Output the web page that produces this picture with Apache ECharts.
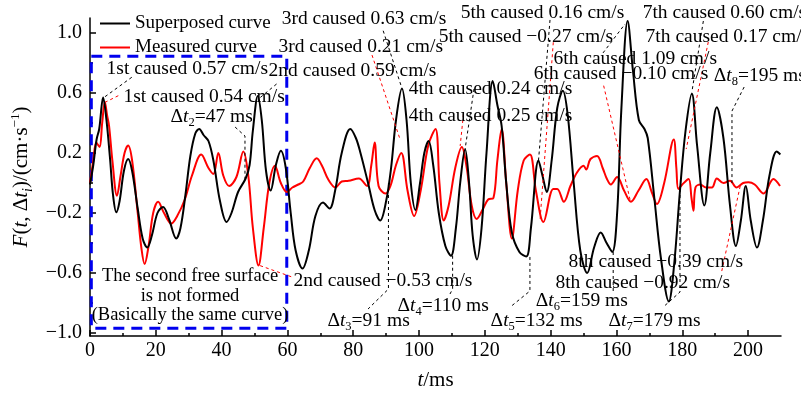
<!DOCTYPE html>
<html><head><meta charset="utf-8">
<script src="https://cdn.jsdelivr.net/npm/echarts@6/dist/echarts.min.js"></script>
<style>html,body{margin:0;padding:0;background:#fff}#c{width:801px;height:396px}</style>
</head><body><div id="c"></div>
<script>
// ---- data (t in ms, value in cm/s) ----
const superposedCurve = [
[0,-0.01],[1.0,0.12],[2.0,0.29],[2.8,0.36],[4.0,0.57],[5.0,0.42],[6.1,0.16],[7.0,-0.08],[8.0,-0.195],[9.0,-0.12],
[10.3,0.08],[11.6,0.16],[12.8,0.08],[14.5,-0.17],[16.0,-0.37],[17.4,-0.43],[18.8,-0.35],[20.5,-0.2],[22.2,-0.16],[24.0,-0.24],
[26.2,-0.37],[27.5,-0.3],[29.0,-0.08],[30.5,0.18],[32.0,0.33],[33.2,0.36],[34.5,0.32],[36.0,0.28],[37.5,0.15],[39.5,-0.12],
[41.5,-0.26],[43.0,-0.2],[45.0,-0.06],[47.3,0.03],[48.5,0.12],[49.5,0.35],[51.0,0.58],[52.2,0.42],[53.5,0.08],[54.9,-0.05],
[56.5,0.12],[58.0,0.215],[59.5,0.1],[61.0,-0.2],[62.5,-0.45],[64.6,-0.57],[66.5,-0.45],[68.5,-0.22],[70.8,-0.13],[72.8,-0.17],
[74.5,-0.05],[76.5,0.2],[79.1,0.36],[80.8,0.3],[82.2,0.2],[84.5,0.0],[86.5,-0.18],[88.2,-0.25],[90.0,-0.12],[91.5,0.1],
[93.0,0.42],[94.8,0.63],[96.2,0.42],[97.5,0.0],[98.9,-0.18],[100.3,0.0],[101.6,0.2],[102.9,0.28],[104.3,0.12],[106.0,-0.2],
[108.0,-0.42],[109.7,-0.485],[111.2,-0.3],[112.5,0.0],[114.0,0.225],[115.2,0.0],[116.3,-0.35],[117.6,-0.51],[119.0,-0.3],[120.5,0.2],
[122.4,0.68],[123.8,0.52],[125.1,0.38],[126.5,0.0],[128.2,-0.33],[130.5,-0.46],[132.6,-0.49],[134.0,-0.3],[136.3,0.15],[137.5,0.05],
[138.8,-0.06],[140.3,0.15],[142.0,0.5],[143.7,0.615],[145.2,0.45],[147.0,0.0],[149.0,-0.45],[151.1,-0.6],[153.2,-0.43],[155.2,-0.33],
[157.0,-0.4],[158.7,-0.46],[160.2,-0.2],[161.5,0.5],[163.4,1.08],[165.0,0.75],[166.8,0.42],[168.5,0.36],[169.5,0.3],[171.5,-0.1],
[173.5,-0.5],[175.9,-0.79],[177.5,-0.55],[179.3,-0.05],[181.0,0.35],[182.9,0.595],[184.5,0.25],[186.7,-0.15],[188.5,0.2],[190.5,0.505],
[192.5,0.3],[194.5,-0.15],[196.3,-0.42],[197.8,-0.25],[199.3,-0.02],[200.8,-0.25],[202.7,-0.43],[204.5,-0.25],[206.5,0.05],[208.7,0.21],[209.8,0.19]
];
const measuredCurve = [
[0,0.0],[1.0,0.15],[1.9,0.27],[2.9,0.24],[3.7,0.4],[4.5,0.54],[5.2,0.45],[5.8,0.38],[6.8,0.15],[8.2,-0.085],
[9.3,0.05],[10.5,0.2],[11.6,0.25],[12.8,0.15],[14.5,-0.2],[15.6,-0.43],[16.6,-0.54],[17.8,-0.42],[19.2,-0.2],[20.7,-0.125],
[22.5,-0.2],[24.7,-0.27],[26.5,-0.22],[28.8,-0.11],[31.0,0.05],[33.8,0.19],[36.0,0.1],[37.5,0.06],[39.0,0.2],[40.5,0.05],
[42.3,-0.02],[44.5,0.04],[46.6,0.21],[48.1,0.05],[49.5,-0.3],[51.2,-0.55],[52.8,-0.3],[54.5,0.0],[56.2,0.115],[58.0,0.0],
[59.8,-0.06],[61.5,-0.03],[63.3,-0.01],[64.8,0.01],[66.8,0.1],[68.9,0.165],[70.5,0.115],[72.5,0.02],[74.6,-0.03],[76.5,0.01],
[78.6,0.015],[81.7,0.03],[84.2,-0.02],[85.5,0.12],[86.5,0.27],[87.7,-0.02],[89.8,-0.07],[91.3,-0.02],[93.0,0.12],[94.6,0.2],
[96.5,-0.05],[98.5,-0.22],[100.5,-0.05],[102.8,0.25],[105.0,0.36],[106.2,0.0],[107.5,-0.25],[109.0,-0.15],[111.0,0.1],[113.0,0.24],
[114.5,0.1],[116.0,-0.15],[117.5,-0.24],[119.5,-0.17],[121.0,-0.11],[122.6,-0.1],[123.8,0.15],[125.1,0.36],[126.5,0.0],[128.2,-0.37],
[130.0,-0.05],[131.8,0.15],[133.7,0.19],[135.5,-0.05],[137.8,-0.26],[140.8,-0.04],[142.0,-0.04],[144.0,-0.125],[146.0,-0.02],[148.0,0.07],
[150.0,0.115],[150.8,0.09],[152.1,0.16],[154.1,0.18],[155.8,0.1],[157.1,0.027],[158.3,-0.01],[160.2,0.04],[162.3,-0.05],[164.4,-0.125],
[166.7,-0.05],[169.1,0.027],[170.7,-0.06],[172.3,-0.14],[174.5,0.0],[177.4,0.29],[178.2,0.1],[178.8,-0.04],[180.0,-0.01],[181.9,0.027],
[182.8,-0.1],[183.4,-0.185],[184.0,-0.03],[185.5,-0.01],[187.2,-0.03],[189.0,-0.03],[190.5,0.03],[192.5,0.0],[194.5,0.015],[196.5,-0.03],
[198.5,0.0],[200.1,0.005],[202.0,-0.01],[204.7,-0.07],[207.7,0.027],[209.7,-0.02]
];
const seriesNames = ['Superposed curve', 'Measured curve'];
const xMajorTicks = [0,20,40,60,80,100,120,140,160,180,200];
const xMinorTicks = [10,30,50,70,90,110,130,150,170,190];
const yMajorTicks = [-1.0,-0.6,-0.2,0.2,0.6,1.0];
const yMinorTicks = [-0.8,-0.4,0,0.4,0.8];
// annotations: [t, value, text]  (text anchored at its left edge, vertically centred)
const annotations = [
[4.9,0.76,'1st caused 0.57 cm/s'],
[10.0,0.573,'1st caused 0.54 cm/s'],
[24.3,0.44,'Δt2=47 ms'],
[54.1,0.747,'2nd caused 0.59 cm/s'],
[57.1,0.907,'3rd caused 0.21 cm/s'],
[58.1,1.093,'3rd caused 0.63 cm/s'],
[96.7,0.627,'4th caused 0.24 cm/s'],
[96.7,0.447,'4th caused 0.25 cm/s'],
[112.5,1.133,'5th caused 0.16 cm/s'],
[105.8,0.973,'5th caused −0.27 cm/s'],
[140.7,0.827,'6th caused 1.09 cm/s'],
[134.7,0.727,'6th caused −0.10 cm/s'],
[167.8,1.133,'7th caused 0.60 cm/s'],
[168.7,0.973,'7th caused 0.17 cm/s'],
[189.4,0.713,'Δt8=195 ms'],
[61.7,-0.653,'2nd caused −0.53 cm/s'],
[72.0,-0.92,'Δt3=91 ms'],
[93.3,-0.82,'Δt4=110 ms'],
[121.6,-0.92,'Δt5=132 ms'],
[135.3,-0.787,'Δt6=159 ms'],
[157.4,-0.92,'Δt7=179 ms'],
[145.3,-0.527,'8th caused −0.39 cm/s'],
[141.3,-0.667,'8th caused −0.92 cm/s']
];
const boxNote = [30.4,-0.753,'The second free surface\nis not formed\n(Basically the same curve)'];
const boxRange = [[0.4,0.845],[59.8,-0.969]];
// leader lines: [which curve, points]
const leaders = [
['superposed',[[12.7,0.705],[3.6,0.56]]],
['measured',[[8.6,0.582],[4.6,0.538]]],
['superposed',[[44.1,0.373],[47.1,0.313],[47.1,0.02]]],
['superposed',[[56.7,0.66],[51.2,0.56]]],
['measured',[[85.7,0.853],[94.2,0.293]]],
['superposed',[[89.1,1.015],[94.7,0.638]]],
['superposed',[[116.7,0.627],[114,0.227]]],
['measured',[[113.5,0.46],[112.5,0.247]]],
['superposed',[[139.8,1.087],[136.3,0.149]]],
['measured',[[140.8,0.938],[136.8,-0.24]]],
['superposed',[[155.9,0.867],[162.6,1.06]]],
['measured',[[156.1,0.649],[164.2,-0.118]]],
['superposed',[[186.4,1.08],[182.9,0.605]]],
['measured',[[187.9,0.94],[181.2,0.227]]],
['superposed',[[198.8,0.64],[195.1,0.48],[195.1,-0.02]]],
['measured',[[51.7,-0.551],[61.7,-0.629]]],
['superposed',[[90.7,0.0],[90.7,-0.707],[84.5,-0.84]]],
['superposed',[[110.2,-0.485],[110.2,-0.707],[109.4,-0.74]]],
['superposed',[[133.7,-0.493],[133.7,-0.72],[127.7,-0.827]]],
['superposed',[[159,-0.46],[159,-0.72]]],
['superposed',[[179.3,-0.04],[179.3,-0.727],[174.2,-0.827]]],
['measured',[[192,-0.587],[197.6,-0.02]]]
];

// ---- styling / chart ----
const FONT = "'Liberation Serif','Times New Roman',serif";
const BLACK = '#000000', RED = '#ff0000', BLUE = '#0000ee';
const AF = 19.5;
const rich = {
  it: {fontStyle:'italic', fontSize:AF, fontFamily:FONT, color:'#000', lineHeight:24, verticalAlign:'middle'},
  n: {fontSize:AF, fontFamily:FONT, color:'#000', lineHeight:24, verticalAlign:'middle'},
  sub: {fontSize:12.5, fontFamily:FONT, color:'#000', lineHeight:13, verticalAlign:'bottom'}
};
function fmtText(s){
  return s.replace(/Δt(\d)/g, 'Δ{it|t}{sub|$1}');
}
const curveColor = {superposed: BLACK, measured: RED};

const series = [
  {name:seriesNames[0], type:'line', data:superposedCurve, smooth:0.35, symbol:'none', clip:false, z:3,
   lineStyle:{color:BLACK, width:2}, itemStyle:{color:BLACK},
   markArea:{silent:true, itemStyle:{color:'rgba(0,0,0,0)', borderColor:BLUE, borderWidth:3, borderType:[11,7]},
     data:[[{coord:boxRange[0]},{coord:boxRange[1]}]]}},
  {name:seriesNames[1], type:'line', data:measuredCurve, smooth:0.35, symbol:'none', clip:false, z:2,
   lineStyle:{color:RED, width:2}, itemStyle:{color:RED}}
];
leaders.forEach(l => {
  series.push({type:'line', data:l[1], symbol:'none', silent:true, clip:false, z:4, smooth:false,
    lineStyle:{color:curveColor[l[0]], width:1, type:[3,3]}});
});
series.push({
  type:'scatter', symbol:'circle', symbolSize:1, silent:true, clip:false, z:6, itemStyle:{color:'rgba(0,0,0,0)'},
  label:{show:true, position:'right', distance:0, color:'#000', opacity:1, textBorderWidth:0, fontSize:AF, fontFamily:FONT, lineHeight:24, rich:rich,
    formatter: p => fmtText(annotations[p.dataIndex][2])},
  labelLayout:{hideOverlap:false},
  data: annotations.map(a => [a[0], a[1]])
});
series.push({
  type:'scatter', symbol:'circle', symbolSize:1, silent:true, clip:false, z:6, itemStyle:{color:'rgba(0,0,0,0)'},
  label:{show:true, position:'inside', align:'center', verticalAlign:'middle', color:'#000', opacity:1, textBorderWidth:0, fontSize:18.5, fontFamily:FONT, lineHeight:19.5,
    formatter: () => boxNote[2]},
  data:[[boxNote[0], boxNote[1]]]
});

const axisLineStyle = {color:'#000', width:1.5};
const option = {
  animation:false,
  backgroundColor:'#fff',
  grid:{left:90, right:20, top:18, bottom:59},
  legend:{data:seriesNames.map(n => ({name:n, icon:'rect'})), orient:'vertical', left:95, top:9, itemWidth:30, itemHeight:2, itemGap:5,
    textStyle:{fontSize:19, fontFamily:FONT, color:'#000', lineHeight:19}},
  xAxis:[
    {type:'value', min:0, max:210, splitLine:{show:false},
     axisLine:{onZero:false, lineStyle:axisLineStyle},
     axisTick:{inside:true, length:6, customValues:xMajorTicks, lineStyle:{color:'#000', width:1.5}},
     axisLabel:{customValues:xMajorTicks, fontSize:20, fontFamily:FONT, color:'#000', margin:5},
     name:'{it|t}{n|/ms}', nameLocation:'middle', nameGap:34,
     nameTextStyle:{fontSize:21, fontFamily:FONT, color:'#000',
       rich:{it:{fontStyle:'italic', fontSize:21, fontFamily:FONT, color:'#000'}, n:{fontSize:21, fontFamily:FONT, color:'#000'}}}},
    {type:'value', min:0, max:210, position:'bottom', splitLine:{show:false}, axisLine:{show:false, onZero:false},
     axisLabel:{show:false}, axisTick:{inside:true, length:3, customValues:xMinorTicks, lineStyle:{color:'#000', width:1.5}}}
  ],
  yAxis:[
    {type:'value', min:-1.02, max:1.1, splitLine:{show:false},
     axisLine:{show:true, onZero:false, lineStyle:axisLineStyle},
     axisTick:{show:true, inside:true, length:6, customValues:yMajorTicks, lineStyle:{color:'#000', width:1.5}},
     axisLabel:{customValues:yMajorTicks, fontSize:20, fontFamily:FONT, color:'#000', margin:8,
       formatter: v => (v < 0 ? '−' : '') + Math.abs(v).toFixed(1)},
     name:'{it|F}{n|(}{it|t}{n|, Δ}{it|t}{sub|i}{n|)/(cm·s}{sup|−1}{n|)}',
     nameLocation:'middle', nameRotate:90, nameGap:52,
     nameTextStyle:{fontSize:21, fontFamily:FONT, color:'#000',
       rich:{
         it:{fontStyle:'italic', fontSize:21, fontFamily:FONT, color:'#000', lineHeight:26, verticalAlign:'middle'},
         n:{fontSize:21, fontFamily:FONT, color:'#000', lineHeight:26, verticalAlign:'middle'},
         sub:{fontStyle:'italic', fontSize:14, fontFamily:FONT, color:'#000', lineHeight:14, verticalAlign:'bottom'},
         sup:{fontSize:13, fontFamily:FONT, color:'#000', lineHeight:13, verticalAlign:'top'}
       }}},
    {type:'value', min:-1.02, max:1.1, position:'left', splitLine:{show:false}, axisLine:{show:false, onZero:false},
     axisLabel:{show:false}, axisTick:{show:true, inside:true, length:3, customValues:yMinorTicks, lineStyle:{color:'#000', width:1.5}}}
  ],
  series: series
};
const chart = echarts.init(document.getElementById('c'), null, {renderer:'canvas'});
chart.setOption(option);
</script>
</body></html>
